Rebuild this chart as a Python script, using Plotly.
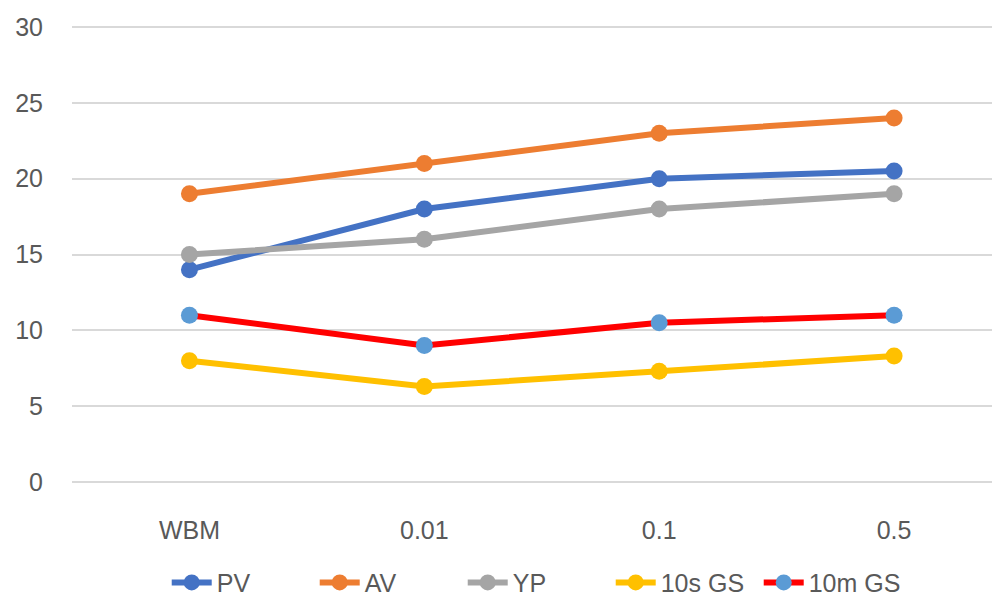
import plotly.graph_objects as go

categories = ["WBM", "0.01", "0.1", "0.5"]
pv = [14, 18, 20, 20.5]
av = [19, 21, 23, 24]
yp = [15, 16, 18, 19]
gs10s = [8, 6.3, 7.3, 8.3]
gs10m = [11, 9, 10.5, 11]
y_ticks = [0, 5, 10, 15, 20, 25, 30]

series = [
    ("PV", pv, "#4472C4", "#4472C4"),
    ("AV", av, "#ED7D31", "#ED7D31"),
    ("YP", yp, "#A5A5A5", "#A5A5A5"),
    ("10s GS", gs10s, "#FFC000", "#FFC000"),
    ("10m GS", gs10m, "#FF0000", "#5B9BD5"),
]

fig = go.Figure()
for name, vals, lc, mc in series:
    fig.add_trace(go.Scatter(
        x=categories, y=vals, name=name, mode="lines+markers",
        line=dict(color=lc, width=6),
        marker=dict(color=mc, size=17),
    ))

font_family = "Liberation Sans Narrow, Arial Narrow, Liberation Sans, Arial, sans-serif"

# page body has an 8px margin, so the figure is drawn 992x590
fig.update_layout(
    width=992, height=590,
    margin=dict(l=64, r=0, t=16, b=113),
    plot_bgcolor="white", paper_bgcolor="white",
    font=dict(family=font_family, size=25, color="#595959"),
    showlegend=True,
    legend=dict(orientation="h", xref="container", yref="container",
                x=0.16, xanchor="left", y=0.026, yanchor="middle",
                font=dict(size=25, color="#595959"),
                itemwidth=40, entrywidth=93, entrywidthmode="pixels",
                tracegroupgap=0),
    xaxis=dict(type="category", range=[-0.5, 3.451], showgrid=False,
               showline=False, zeroline=False, ticks="",
               ticklabelstandoff=28, tickfont=dict(size=25)),
    yaxis=dict(range=[-0.2, 30.2], tickvals=y_ticks, showgrid=True,
               gridcolor="#D9D9D9", gridwidth=2, zeroline=False,
               showline=False, ticks="", ticklabelstandoff=28,
               tickfont=dict(size=25)),
)

fig.write_html("out.html")
